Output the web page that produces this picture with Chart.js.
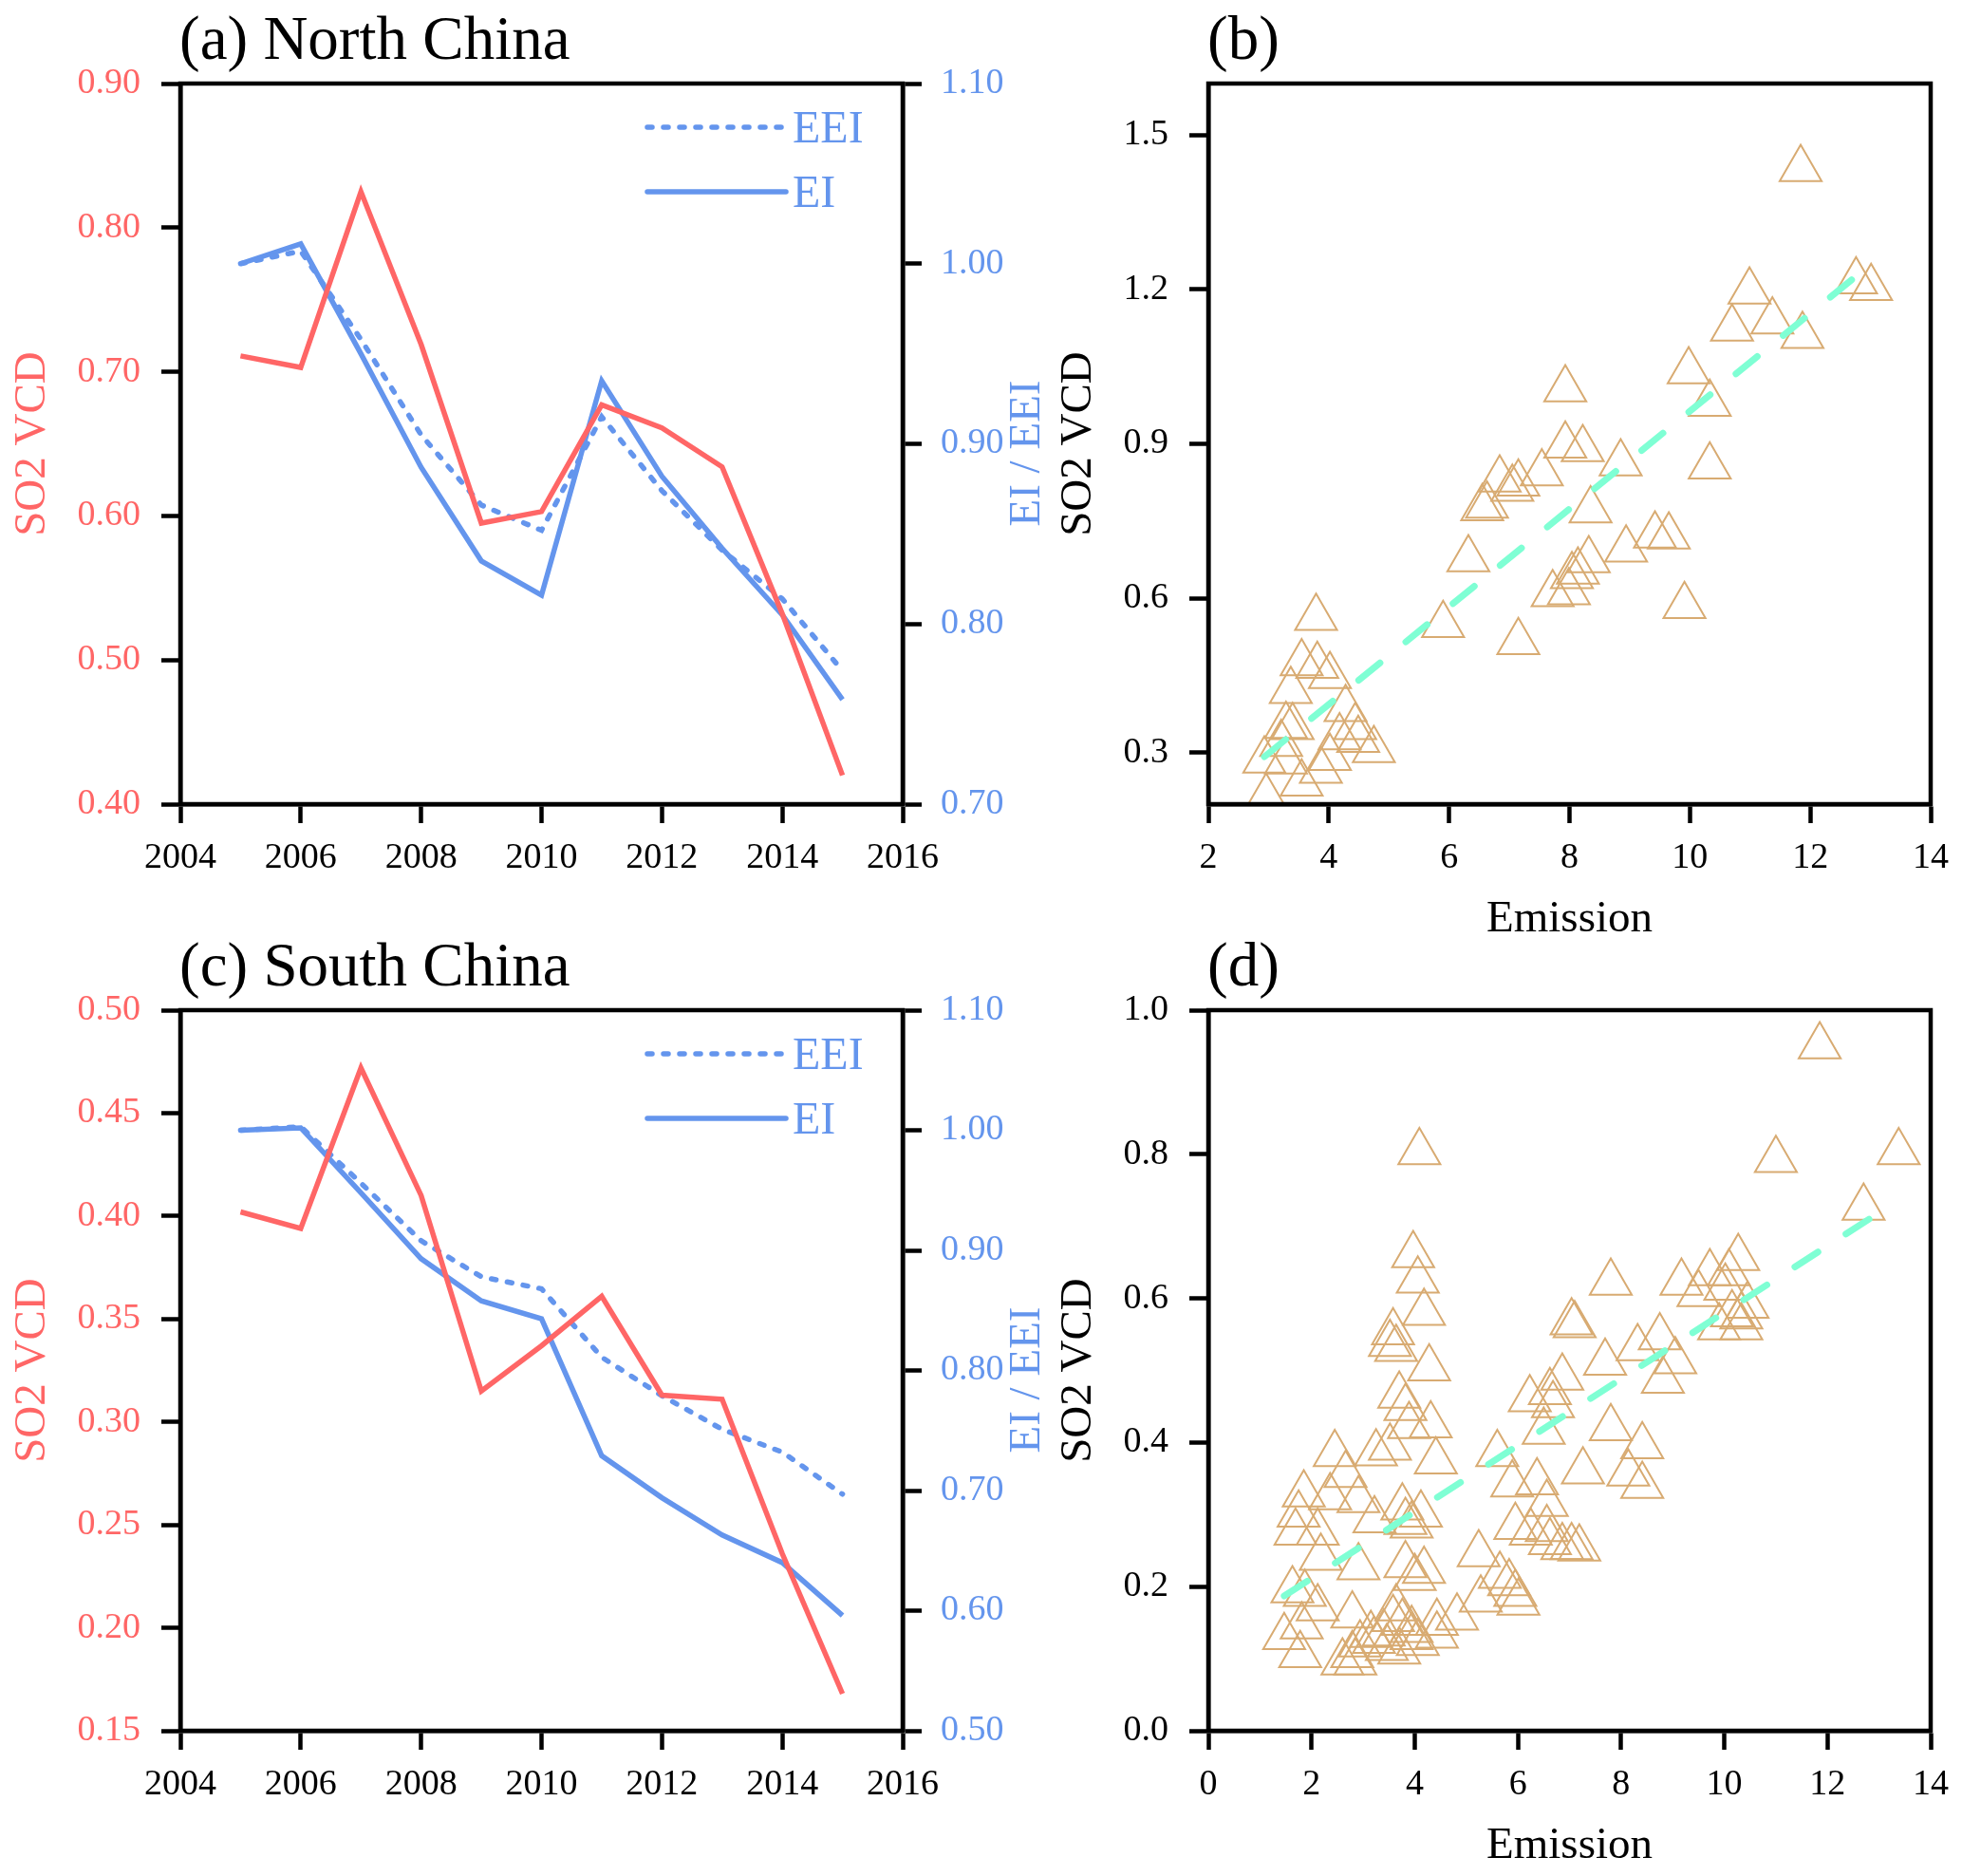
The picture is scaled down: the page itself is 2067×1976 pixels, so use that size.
<!DOCTYPE html>
<html>
<head>
<meta charset="utf-8">
<script src="https://cdn.jsdelivr.net/npm/chart.js@4.4.1/dist/chart.umd.min.js"></script>
<style>
  html, body { margin: 0; padding: 0; background: #fff; }
  #wrap { position: relative; width: 2067px; height: 1976px; }
  canvas { position: absolute; }
</style>
</head>
<body>
<div id="wrap">
  <canvas id="pa" width="1110" height="988" style="left:0;top:0"></canvas>
  <canvas id="pb" width="957" height="988" style="left:1110px;top:0"></canvas>
  <canvas id="pc" width="1110" height="988" style="left:0;top:988px"></canvas>
  <canvas id="pd" width="957" height="988" style="left:1110px;top:988px"></canvas>
</div>
<script>
// ---- data ----
const years = [2005, 2006, 2007, 2008, 2009, 2010, 2011, 2012, 2013, 2014, 2015];

const northSO2 = [0.711, 0.703, 0.825, 0.719, 0.595, 0.603, 0.677, 0.661, 0.634, 0.532, 0.420];
const northEI  = [1.000, 1.011, 0.950, 0.887, 0.835, 0.816, 0.935, 0.882, 0.842, 0.805, 0.758];
const northEEI = [1.000, 1.007, 0.958, 0.905, 0.866, 0.852, 0.915, 0.874, 0.841, 0.814, 0.774];

const southSO2 = [0.402, 0.394, 0.472, 0.410, 0.315, 0.337, 0.361, 0.313, 0.311, 0.236, 0.168];
const southEI  = [1.000, 1.002, 0.948, 0.893, 0.858, 0.843, 0.729, 0.694, 0.663, 0.640, 0.596];
const southEEI = [1.000, 1.003, 0.956, 0.908, 0.878, 0.868, 0.811, 0.779, 0.751, 0.732, 0.697];

// (b) North China scatter
const emissionB = [11.84, 10.99, 12.76, 13.01, 10.70, 11.37, 11.87, 9.98, 10.33, 10.33,
  7.93, 7.93, 8.22, 8.85, 8.35, 8.94, 9.42, 9.65, 9.91, 7.15,
  6.32, 5.90, 6.84, 6.63, 6.55, 7.15, 7.05, 7.54, 7.72, 8.04,
  7.99, 8.32, 8.14, 3.79, 3.55, 3.81, 4.02, 3.37, 3.29, 3.21,
  3.40, 2.96, 3.55, 3.87, 4.02, 4.28, 4.44, 4.49, 4.75, 4.18,
  3.29, 2.93];
const vcdB = [1.434, 1.196, 1.216, 1.203, 1.124, 1.138, 1.110, 1.041, 0.978, 0.856,
  1.006, 0.897, 0.890, 0.862, 0.771, 0.695, 0.722, 0.720, 0.585, 0.515,
  0.676, 0.548, 0.831, 0.780, 0.775, 0.823, 0.813, 0.843, 0.608, 0.643,
  0.612, 0.674, 0.652, 0.562, 0.474, 0.469, 0.449, 0.420, 0.352, 0.317,
  0.350, 0.213, 0.240, 0.265, 0.290, 0.385, 0.350, 0.325, 0.305, 0.330,
  0.283, 0.285];
const fitB = [[2.93, 0.292], [12.85, 1.234]];

// (d) South China scatter
const emissionD = [11.85, 4.09, 11.00, 13.38, 12.70, 9.17, 9.50, 9.72, 10.09, 10.27,
  10.02, 10.45, 10.15, 10.33, 9.90, 10.33, 7.80, 7.04, 7.10, 8.32,
  8.75, 9.05, 8.81, 7.69, 6.86, 6.62, 6.23, 6.68, 6.50, 7.80,
  8.41, 7.26, 8.14, 8.41, 5.60, 5.89, 6.37, 6.56, 5.95, 6.25,
  6.56, 6.62, 6.86, 7.04, 7.19, 5.24, 5.65, 5.83, 5.95, 6.01,
  5.28, 4.82, 4.43, 3.97, 4.06, 4.18, 3.58, 3.52, 3.64, 4.28,
  3.70, 3.82, 3.89, 4.31, 4.41, 3.25, 3.52, 2.45, 2.66, 2.36,
  2.91, 3.22, 3.76, 3.82, 4.12, 3.94, 1.85, 1.75, 1.69, 2.12,
  2.18, 2.91, 3.82, 4.18, 4.00, 1.63, 1.87, 2.12, 1.81, 1.47,
  1.78, 2.79, 3.15, 2.94, 2.79, 2.85, 3.21, 3.40, 3.58, 3.64,
  3.76, 3.94, 4.06, 3.46, 3.70, 3.94, 4.43, 2.60];
const vcdD = [0.950, 0.803, 0.792, 0.803, 0.726, 0.622, 0.606, 0.635, 0.635, 0.656,
  0.615, 0.590, 0.578, 0.575, 0.560, 0.560, 0.622, 0.567, 0.563, 0.531,
  0.546, 0.513, 0.486, 0.511, 0.490, 0.470, 0.460, 0.452, 0.415, 0.420,
  0.395, 0.360, 0.357, 0.340, 0.384, 0.342, 0.345, 0.315, 0.283, 0.275,
  0.280, 0.262, 0.255, 0.255, 0.253, 0.245, 0.215, 0.205, 0.190, 0.178,
  0.182, 0.157, 0.150, 0.660, 0.625, 0.580, 0.553, 0.537, 0.530, 0.503,
  0.465, 0.448, 0.423, 0.424, 0.374, 0.385, 0.393, 0.384, 0.355, 0.324,
  0.320, 0.292, 0.310, 0.290, 0.300, 0.285, 0.328, 0.300, 0.275, 0.275,
  0.240, 0.227, 0.230, 0.222, 0.212, 0.195, 0.190, 0.170, 0.145, 0.130,
  0.105, 0.160, 0.133, 0.120, 0.105, 0.095, 0.125, 0.135, 0.155, 0.170,
  0.150, 0.140, 0.122, 0.115, 0.110, 0.130, 0.132, 0.095];
const fitD = [[1.47, 0.187], [13.0, 0.719]];

// tick labels
const yearTicks = [2004, 2006, 2008, 2010, 2012, 2014, 2016];
const northSO2Ticks = [0.40, 0.50, 0.60, 0.70, 0.80, 0.90];
const northRatioTicks = [0.70, 0.80, 0.90, 1.00, 1.10];
const southSO2Ticks = [0.15, 0.20, 0.25, 0.30, 0.35, 0.40, 0.45, 0.50];
const southRatioTicks = [0.50, 0.60, 0.70, 0.80, 0.90, 1.00, 1.10];
const emisTicksB = [2, 4, 6, 8, 10, 12, 14];
const vcdTicksB = [0.3, 0.6, 0.9, 1.2, 1.5];
const emisTicksD = [0, 2, 4, 6, 8, 10, 12, 14];
const vcdTicksD = [0.0, 0.2, 0.4, 0.6, 0.8, 1.0];

const RED = '#FF6666';
const BLUE = '#6495ED';
const TAN = '#D8AB72';
const AQUA = '#7FFFD4';
const SERIF = "'Liberation Serif', 'Times New Roman', serif";

Chart.defaults.font.family = SERIF;
Chart.defaults.color = '#000';

function pts(xs, ys) {
  return xs.map((x, i) => ({ x: x, y: ys[i] }));
}

function axis(pos, min, max, ticks, digits, color, size) {
  return {
    type: 'linear',
    position: pos,
    min: min,
    max: max,
    afterBuildTicks: s => { s.ticks = ticks.map(v => ({ value: v })); },
    afterFit: s => {
      if (pos === 'bottom') s.height = size;
      else s.width = size;
    },
    ticks: {
      color: color,
      font: { size: 38 },
      padding: pos === 'bottom' ? 14 : (pos === 'right' ? 20 : 22),
      autoSkip: false,
      maxRotation: 0,
      callback: v => v.toFixed(digits),
    },
    grid: { drawOnChartArea: false, tickLength: 20, tickWidth: 4.5, tickColor: '#000' },
    border: { color: '#000', width: 4.5 },
  };
}

// frame, panel title, axis titles and the little legend
const panelText = {
  id: 'panelText',
  afterDraw(chart, args, o) {
    const ctx = chart.ctx;
    const a = chart.chartArea;
    ctx.save();
    ctx.strokeStyle = '#000';
    ctx.lineWidth = 4.5;
    ctx.strokeRect(a.left, a.top, a.right - a.left, a.bottom - a.top);

    ctx.fillStyle = '#000';
    ctx.textAlign = 'left';
    ctx.textBaseline = 'alphabetic';
    ctx.font = `65px ${SERIF}`;
    ctx.fillText(o.title, a.left - 1, a.top - 26);

    const midY = (a.top + a.bottom) / 2;
    ctx.font = `47px ${SERIF}`;
    ctx.textAlign = 'center';
    ctx.textBaseline = 'middle';
    [o.left, o.right].forEach(t => {
      if (!t) return;
      ctx.save();
      ctx.translate(t.x, midY + (t.dy || 0));
      ctx.rotate(-Math.PI / 2);
      ctx.fillStyle = t.color;
      ctx.fillText(t.text, 0, 0);
      ctx.restore();
    });
    if (o.bottom) {
      ctx.fillStyle = '#000';
      ctx.fillText(o.bottom, (a.left + a.right) / 2, a.bottom + 122);
    }

    if (o.legend) {
      const items = chart.data.datasets.filter(d => d.yAxisID === 'y1');
      items.forEach((d, i) => {
        const y = a.top + 46 + i * 68;
        ctx.beginPath();
        ctx.setLineDash(d.borderDash || []);
        ctx.lineCap = 'round';
        ctx.lineWidth = d.borderWidth;
        ctx.strokeStyle = d.borderColor;
        ctx.moveTo(a.left + 492, y);
        ctx.lineTo(a.left + 638, y);
        ctx.stroke();
        ctx.setLineDash([]);
        ctx.font = `48px ${SERIF}`;
        ctx.textAlign = 'left';
        ctx.textBaseline = 'alphabetic';
        ctx.fillStyle = d.borderColor;
        ctx.fillText(d.label, a.left + 645, y + 16);
      });
    }
    ctx.restore();
  },
};

function lineChart(id, so2, ei, eei, so2Axis, ratioAxis, areaTop, title) {
  const cv = document.getElementById(id);
  const W = cv.width, H = cv.height;
  const left = 190, right = 951, bottom = areaTop + 759;
  new Chart(cv, {
    type: 'scatter',
    data: {
      datasets: [
        {
          label: 'SO2 VCD', data: pts(years, so2), yAxisID: 'y', showLine: true,
          borderColor: RED, borderWidth: 5.5, pointRadius: 0,
        },
        {
          label: 'EEI', data: pts(years, eei), yAxisID: 'y1', showLine: true,
          borderColor: BLUE, borderWidth: 5.5, pointRadius: 0,
          borderDash: [5, 12], borderCapStyle: 'round',
        },
        {
          label: 'EI', data: pts(years, ei), yAxisID: 'y1', showLine: true,
          borderColor: BLUE, borderWidth: 5.5, pointRadius: 0,
        },
      ],
    },
    options: {
      responsive: false,
      animation: false,
      devicePixelRatio: 1,
      events: [],
      layout: { padding: { top: areaTop, left: 0, right: 0, bottom: 0 } },
      scales: {
        x: axis('bottom', 2004, 2016, yearTicks, 0, '#000', H - bottom),
        y: axis('left', so2Axis[0], so2Axis[so2Axis.length - 1], so2Axis, 2, RED, left),
        y1: axis('right', ratioAxis[0], ratioAxis[ratioAxis.length - 1], ratioAxis, 2, BLUE, W - right),
      },
      plugins: {
        legend: { display: false },
        tooltip: { enabled: false },
        panelText: {
          title: title,
          left: { text: 'SO2 VCD', color: RED, x: 35 },
          right: { text: 'EI / EEI', color: BLUE, x: 1083, dy: 10 },
          legend: true,
        },
      },
    },
    plugins: [panelText],
  });
}

function scatterChart(id, emis, vcd, fit, xTicks, yTicks, yMin, yMax, areaTop, title) {
  const cv = document.getElementById(id);
  const W = cv.width, H = cv.height;
  const left = 163, right = 925, bottom = areaTop + 759;
  new Chart(cv, {
    type: 'scatter',
    data: {
      datasets: [
        {
          label: 'fit', data: fit.map(p => ({ x: p[0], y: p[1] })), showLine: true,
          borderColor: AQUA, borderWidth: 7, pointRadius: 0,
          borderDash: [29, 35], borderCapStyle: 'round',
        },
        {
          label: 'SO2 VCD', data: pts(emis, vcd),
          pointStyle: 'triangle', pointRadius: 25.5, pointBorderWidth: 2,
          pointBorderColor: TAN, pointBackgroundColor: 'rgba(0,0,0,0)',
          borderColor: TAN, backgroundColor: 'rgba(0,0,0,0)',
        },
      ],
    },
    options: {
      responsive: false,
      animation: false,
      devicePixelRatio: 1,
      events: [],
      layout: { padding: { top: areaTop, left: 0, right: W - right, bottom: 0 } },
      scales: {
        x: axis('bottom', xTicks[0], xTicks[xTicks.length - 1], xTicks, 0, '#000', H - bottom),
        y: axis('left', yMin, yMax, yTicks, 1, '#000', left),
      },
      plugins: {
        legend: { display: false },
        tooltip: { enabled: false },
        panelText: {
          title: title,
          left: { text: 'SO2 VCD', color: '#000', x: 27 },
          bottom: 'Emission',
        },
      },
    },
    plugins: [panelText],
  });
}

lineChart('pa', northSO2, northEI, northEEI, northSO2Ticks, northRatioTicks, 88, '(a) North China');
scatterChart('pb', emissionB, vcdB, fitB, emisTicksB, vcdTicksB, 0.2, 1.6, 88, '(b)');
lineChart('pc', southSO2, southEI, southEEI, southSO2Ticks, southRatioTicks, 76, '(c) South China');
scatterChart('pd', emissionD, vcdD, fitD, emisTicksD, vcdTicksD, 0.0, 1.0, 76, '(d)');
</script>
</body>
</html>
